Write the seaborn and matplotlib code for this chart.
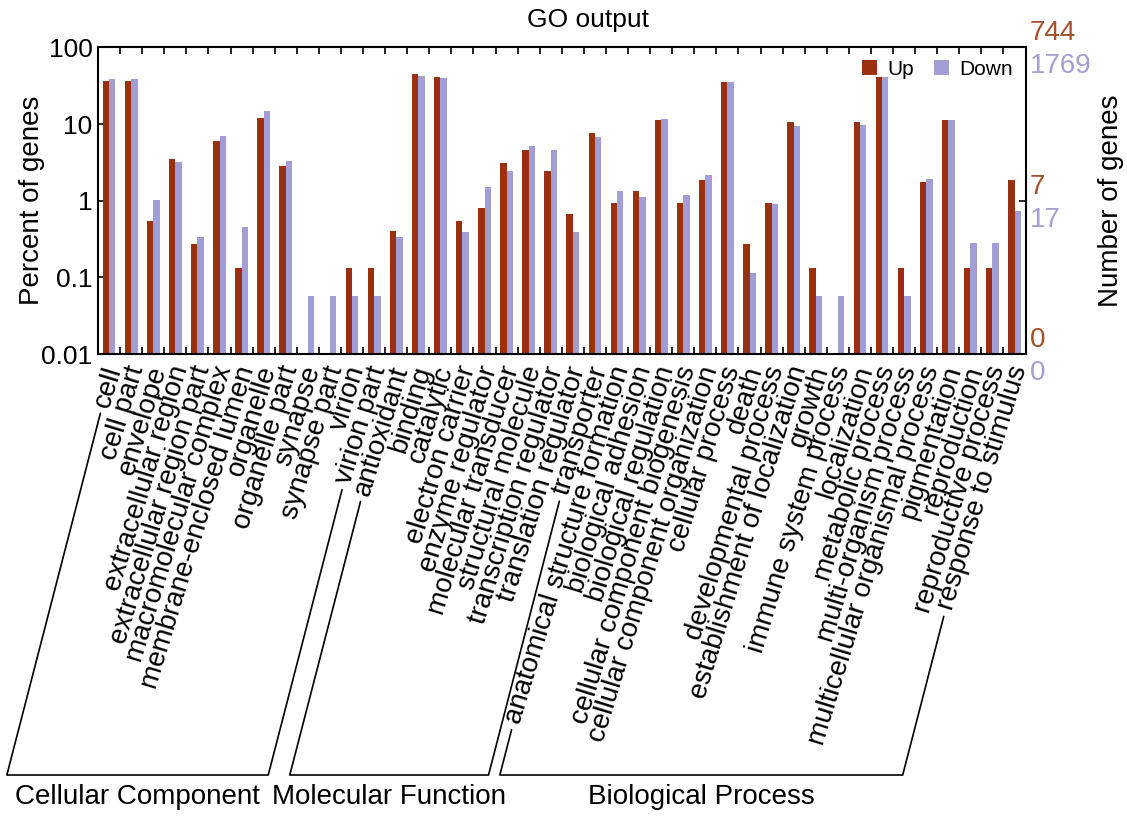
import numpy as np
import pandas as pd
import matplotlib
matplotlib.use("Agg")
import matplotlib.pyplot as plt
import matplotlib.transforms as mtransforms
from matplotlib.patches import Patch
from matplotlib.lines import Line2D
import seaborn as sns

# GO level-2 terms, grouped by ontology
cc_terms = ["cell", "cell part", "envelope", "extracellular region",
            "extracellular region part", "macromolecular complex",
            "membrane-enclosed lumen", "organelle", "organelle part",
            "synapse", "synapse part", "virion", "virion part"]
mf_terms = ["antioxidant", "binding", "catalytic", "electron carrier",
            "enzyme regulator", "molecular transducer", "structural molecule",
            "transcription regulator", "translation regulator", "transporter"]
bp_terms = ["anatomical structure formation", "biological adhesion",
            "biological regulation", "cellular component biogenesis",
            "cellular component organization", "cellular process", "death",
            "developmental process", "establishment of localization", "growth",
            "immune system process", "localization", "metabolic process",
            "multi-organism process", "multicellular organismal process",
            "pigmentation", "reproduction", "reproductive process",
            "response to stimulus"]
group_names = ["Cellular Component", "Molecular Function", "Biological Process"]

# Annotated gene counts per term
up_counts = [268, 268, 4, 26, 2, 45, 1, 89, 21, 0, 0, 1, 1,
             3, 335, 306, 4, 6, 23, 34, 18, 5, 57,
             7, 10, 84, 7, 14, 260, 2, 7, 80, 1, 0, 80, 305, 1, 13, 83, 1, 1, 14]
down_counts = [677, 677, 18, 56, 6, 123, 8, 259, 59, 1, 1, 1, 1,
               6, 758, 706, 7, 27, 43, 92, 80, 7, 121,
               24, 20, 207, 21, 38, 616, 2, 16, 169, 1, 1, 170, 725, 1, 34, 200, 5, 5, 13]
up_total = 744
down_total = 1769

pct_ticks = [0.01, 0.1, 1, 10, 100]
pct_labels = ["0.01", "0.1", "1", "10", "100"]
count_ticks = [100, 1, 0.01]

UP_COLOR = "#9A3010"
DOWN_COLOR = "#A19ED6"
UP_TEXT = "#A4502A"
DOWN_TEXT = "#A29FD4"

terms = cc_terms + mf_terms + bp_terms
n = len(terms)
df = pd.DataFrame({
    "term": terms * 2,
    "direction": ["Up"] * n + ["Down"] * n,
    "count": up_counts + down_counts,
})
df["percent"] = np.where(df["direction"] == "Up",
                         df["count"] / up_total * 100,
                         df["count"] / down_total * 100)

sns.set_theme(style="white")
plt.rcParams["font.family"] = ["Liberation Sans", "DejaVu Sans"]
plt.rcParams["text.color"] = "black"
plt.rcParams["axes.labelcolor"] = "black"
plt.rcParams["xtick.color"] = "black"
plt.rcParams["ytick.color"] = "black"
FS = 20

fig = plt.figure(figsize=(11.27, 8.16), dpi=100)
ax = fig.add_axes([0.087, 0.566, 0.823, 0.376])

sns.barplot(data=df, x="term", y="percent", hue="direction", order=terms,
            hue_order=["Up", "Down"],
            palette={"Up": UP_COLOR, "Down": DOWN_COLOR},
            width=0.58, saturation=1, errorbar=None, linewidth=0,
            legend=False, ax=ax)

ax.set_yscale("log")
ax.set_ylim(0.01, 100)
ax.set_xlim(-0.5, n - 0.5)
ax.set_yticks(pct_ticks)
ax.set_yticklabels(pct_labels, fontsize=19)
ax.yaxis.set_minor_locator(matplotlib.ticker.NullLocator())
ax.tick_params(axis="y", which="major", direction="in", length=5, width=1.2,
               left=True, right=False, pad=4)
ax.set_ylabel("Percent of genes", fontsize=FS)
ax.yaxis.set_label_coords(-0.057, 0.5)
ax.set_xlabel("")

# category labels at centres, tick marks at the category boundaries
ax.set_xticks(range(n))
ax.set_xticklabels(terms, rotation=73, ha="right", va="center",
                   rotation_mode="anchor", fontsize=FS)
ax.tick_params(axis="x", which="major", length=0, pad=9)
ax.set_xticks(np.arange(n - 1) + 0.5, minor=True)
ax.tick_params(axis="x", which="minor", direction="in", length=5, width=1.2,
               top=True, bottom=True)
shift = mtransforms.ScaledTranslation(4 / 72, 0, fig.dpi_scale_trans)
for lab in ax.get_xticklabels():
    lab.set_transform(lab.get_transform() + shift)

for sp in ax.spines.values():
    sp.set_color("black")
    sp.set_linewidth(1.5)

# right-hand axis: gene counts
ax2 = ax.twinx()
ax2.set_yscale("log")
ax2.set_ylim(ax.get_ylim())
ax2.set_yticks([1])
ax2.set_yticklabels([])
ax2.yaxis.set_minor_locator(matplotlib.ticker.NullLocator())
ax2.tick_params(axis="y", direction="in", length=5, width=1.2)
for sp in ax2.spines.values():
    sp.set_visible(False)
fig.text(1111 / 1127, 0.5 * (0.566 + 0.942), "Number of genes", rotation=90,
         ha="center", va="center", fontsize=FS)

blend = mtransforms.blended_transform_factory(ax.transAxes, ax.transData)
up_tr = mtransforms.offset_copy(blend, fig=fig, x=4, y=1, units="dots")
down_tr = mtransforms.offset_copy(blend, fig=fig, x=4, y=-6, units="dots")
for p in count_ticks:
    ax.text(1.0, p, str(int(up_total * p / 100)), transform=up_tr,
            ha="left", va="bottom", fontsize=FS, color=UP_TEXT, clip_on=False)
    ax.text(1.0, p, str(int(down_total * p / 100)), transform=down_tr,
            ha="left", va="top", fontsize=FS, color=DOWN_TEXT, clip_on=False)

handles = [Patch(facecolor=UP_COLOR, edgecolor="none"),
           Patch(facecolor=DOWN_COLOR, edgecolor="none")]
ax.legend(handles, ["Up", "Down"], loc="upper right", ncol=2, frameon=False,
          fontsize=15, handlelength=0.7, handleheight=0.7,
          handletextpad=0.5, columnspacing=1.0, borderaxespad=0.2)

fig.text(0.522, 0.975, "GO output", ha="center", va="center", fontsize=19)

# ontology brackets drawn from the ends of the first/last labels of each group
fig.canvas.draw()
renderer = fig.canvas.get_renderer()
labels = ax.get_xticklabels()
theta = np.deg2rad(73)
phi = np.deg2rad(75.5)
W, H = fig.bbox.width, fig.bbox.height
base_y = 41.0
text_y = 19.0


def label_end(lab):
    bb = lab.get_window_extent(renderer)
    c, s = np.cos(theta), np.sin(theta)
    det = c * c - s * s
    h = (bb.height * c - bb.width * s) / det
    ex = bb.x0 + h / 2 * s
    ey = bb.y0 + h / 2 * c
    gap = 7
    return ex - gap * c, ey - gap * s


def line_down(x, y):
    t = (y - base_y) / np.sin(phi)
    return x - t * np.cos(phi), base_y


start = 0
for name, grp in zip(group_names, [cc_terms, mf_terms, bp_terms]):
    first, last = start, start + len(grp) - 1
    x1, y1 = label_end(labels[first])
    x2, y2 = label_end(labels[last])
    bx1, _ = line_down(x1, y1)
    bx2, _ = line_down(x2, y2)
    xs = [x1, bx1, bx2, x2]
    ys = [y1, base_y, base_y, y2]
    fig.add_artist(Line2D(np.array(xs) / W, np.array(ys) / H,
                          transform=fig.transFigure, color="black", lw=1.2))
    fig.text((bx1 + bx2) / 2 / W, text_y / H, name, ha="center",
             va="center", fontsize=FS)
    start += len(grp)

fig.savefig("out.png", dpi=100)
